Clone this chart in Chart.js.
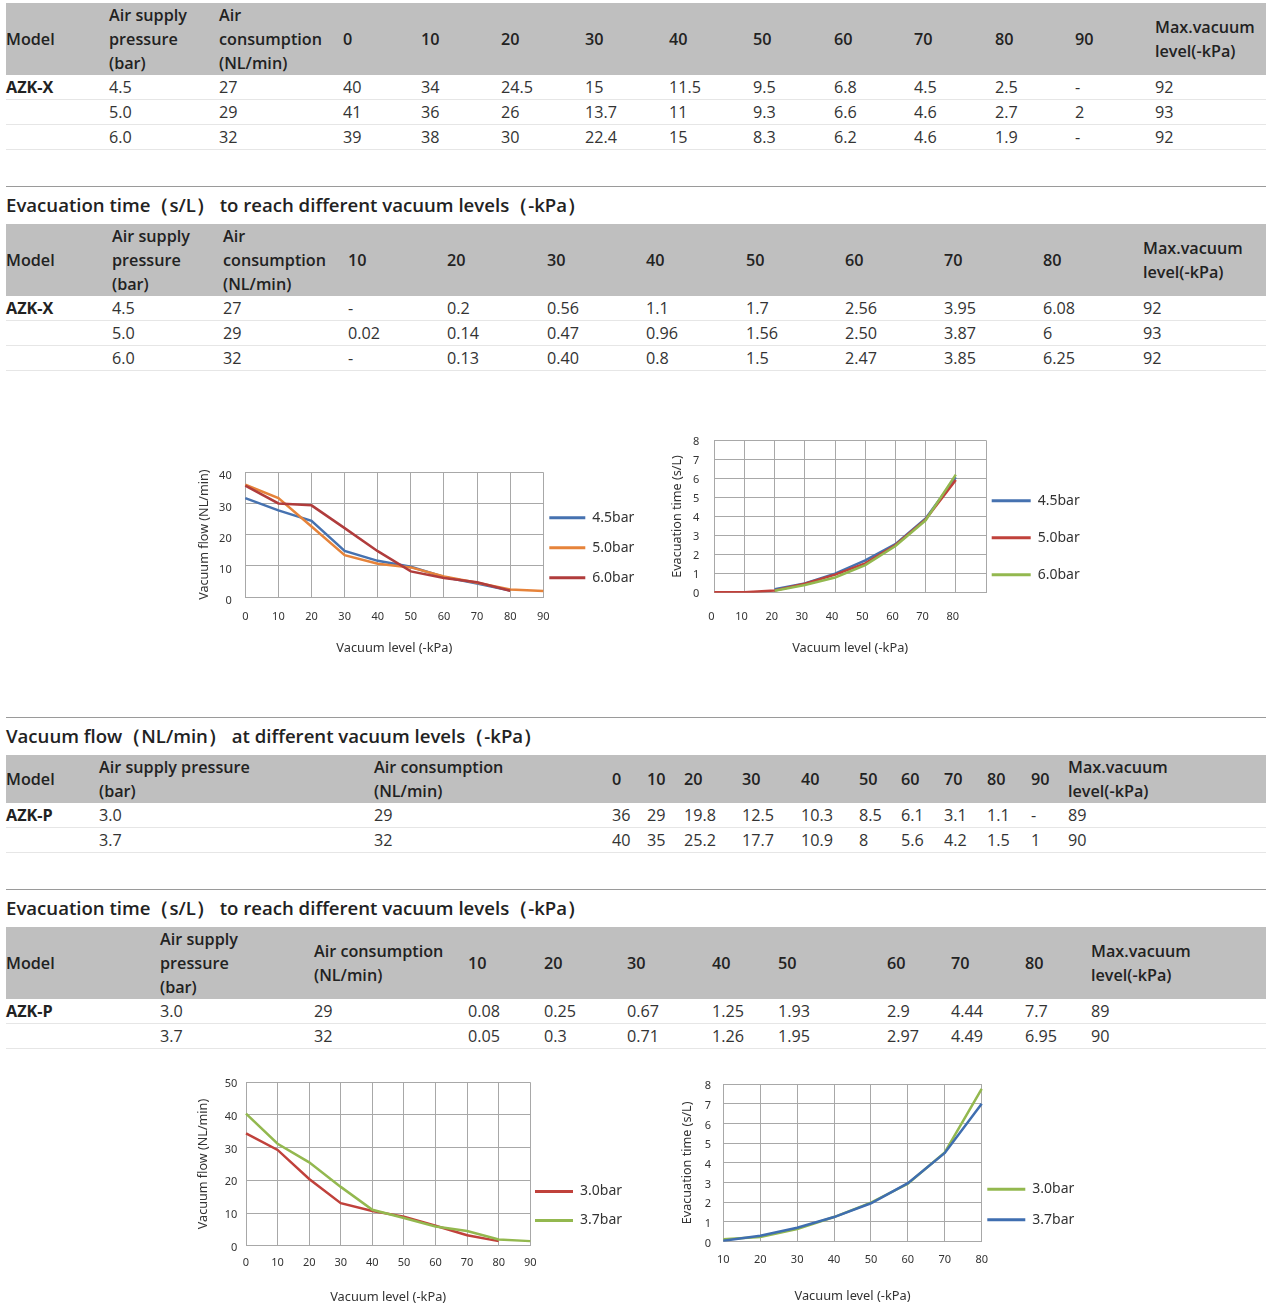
<!DOCTYPE html>
<html><head><meta charset="utf-8">
<script src="https://cdn.jsdelivr.net/npm/chart.js@4"></script>
<style>
html,body{margin:0;padding:0;background:#fff;}
body{width:1269px;height:1309px;position:relative;overflow:hidden;font-family:'Open Sans','Noto Sans',sans-serif;color:#333;}
.tbl{position:absolute;left:6px;width:1260px;border-collapse:collapse;table-layout:fixed;font-size:16.2px;}
.tbl th{background:#bfbfbf;font-weight:600;color:#222;text-align:left;vertical-align:middle;line-height:24px;padding:0;white-space:nowrap;}
.tbl td{line-height:24px;height:24px;padding:0;border-bottom:1px solid #e6e6e6;color:#333;white-space:nowrap;}
.tbl td.m{font-weight:700;color:#222;}
.rule{position:absolute;left:6px;width:1260px;height:0;border-top:1px solid #9a9a9a;}
.ttl{position:absolute;left:6px;font-size:18.6px;font-weight:600;color:#222;line-height:24px;white-space:nowrap;}
canvas{position:absolute;}
</style></head>
<body>
<script>
// ---------- table data ----------
const t1Levels = ['0','10','20','30','40','50','60','70','80','90'];
const t1Pressure = ['4.5','5.0','6.0'];
const t1Consumption = ['27','29','32'];
const t1Flow = [
  ['40','34','24.5','15','11.5','9.5','6.8','4.5','2.5','-'],
  ['41','36','26','13.7','11','9.3','6.6','4.6','2.7','2'],
  ['39','38','30','22.4','15','8.3','6.2','4.6','1.9','-']
];
const t1Max = ['92','93','92'];

const t2Levels = ['10','20','30','40','50','60','70','80'];
const t2Time = [
  ['-','0.2','0.56','1.1','1.7','2.56','3.95','6.08'],
  ['0.02','0.14','0.47','0.96','1.56','2.50','3.87','6'],
  ['-','0.13','0.40','0.8','1.5','2.47','3.85','6.25']
];
const t2Max = ['92','93','92'];

const t3Levels = ['0','10','20','30','40','50','60','70','80','90'];
const t3Pressure = ['3.0','3.7'];
const t3Consumption = ['29','32'];
const t3Flow = [
  ['36','29','19.8','12.5','10.3','8.5','6.1','3.1','1.1','-'],
  ['40','35','25.2','17.7','10.9','8','5.6','4.2','1.5','1']
];
const t3Max = ['89','90'];

const t4Levels = ['10','20','30','40','50','60','70','80'];
const t4Time = [
  ['0.08','0.25','0.67','1.25','1.93','2.9','4.44','7.7'],
  ['0.05','0.3','0.71','1.26','1.95','2.97','4.49','6.95']
];
const t4Max = ['89','90'];

// ---------- chart data ----------
const flowX = [0,10,20,30,40,50,60,70,80,90];
const flowX_45 = [31.7,27.8,24.4,14.8,11.6,9.7,6.4,4.3,2.1,null];
const flowX_50 = [36,31.7,22.6,13.4,10.7,9.5,6.6,4.6,2.4,1.9];
const flowX_60 = [35.7,30,29.4,22.1,14.7,8.2,6.1,4.7,2.0,null];

const evacX = [0,10,20,30,40,50,60,70,80,90];
const evacX_45 = [null,null,0.18,0.49,1.0,1.7,2.55,3.9,6.06];
const evacX_50 = [0.02,0.02,0.12,0.47,0.95,1.54,2.5,3.85,5.92];
const evacX_60 = [null,null,0.1,0.4,0.8,1.45,2.45,3.8,6.2];

const flowP = [0,10,20,30,40,50,60,70,80,90];
const flowP_30 = [34.4,29.3,20.4,13,10.6,8.9,6.1,3.2,1.4,null];
const flowP_37 = [40.4,31.2,25.5,18,11,8.5,5.9,4.5,1.9,1.4];

const evacP = [10,20,30,40,50,60,70,80];
const evacP_30 = [0.12,0.24,0.64,1.25,1.98,2.94,4.53,7.75];
const evacP_37 = [0.05,0.3,0.71,1.25,1.95,2.97,4.5,7.0];

// ---------- page builders ----------
function addTable(top, widths, headers, rows){
  const t = document.createElement('table'); t.className = 'tbl'; t.style.top = top + 'px';
  const cg = document.createElement('colgroup');
  widths.forEach(w => { const c = document.createElement('col'); c.style.width = w + 'px'; cg.appendChild(c); });
  t.appendChild(cg);
  const tb = document.createElement('tbody'); t.appendChild(tb);
  const hr = tb.insertRow();
  headers.forEach(h => { const th = document.createElement('th'); th.innerHTML = h.split('\n').join('<br>'); hr.appendChild(th); });
  rows.forEach(r => { const row = tb.insertRow(); r.forEach((v, ci) => { const td = row.insertCell(); td.textContent = v; if (ci === 0) td.className = 'm'; }); });
  document.body.appendChild(t);
}
function addRule(top){ const d = document.createElement('div'); d.className = 'rule'; d.style.top = top + 'px'; document.body.appendChild(d); }
function addTitle(top, text){ const d = document.createElement('div'); d.className = 'ttl'; d.style.top = top + 'px'; d.textContent = text; document.body.appendChild(d); }
function rowsOf(model, pressures, cons, vals, maxes){
  return pressures.map((p, i) => [i === 0 ? model : '', p, cons[i], ...vals[i], maxes[i]]);
}

const hMax = 'Max.vacuum\nlevel(-kPa)';
addTable(3, [103,110,124,78,80,84,84,84,81,80,81,80,80,111],
  ['Model','Air supply\npressure\n(bar)','Air\nconsumption\n(NL/min)', ...t1Levels, hMax],
  rowsOf('AZK-X', t1Pressure, t1Consumption, t1Flow, t1Max));
addRule(186);
addTitle(193, 'Evacuation time（s/L） to reach different vacuum levels（-kPa）');
addTable(224, [106,111,125,99,100,99,100,99,99,99,100,123],
  ['Model','Air supply\npressure\n(bar)','Air\nconsumption\n(NL/min)', ...t2Levels, hMax],
  rowsOf('AZK-X', t1Pressure, t1Consumption, t2Time, t2Max));
addRule(717);
addTitle(724, 'Vacuum flow（NL/min） at different vacuum levels（-kPa）');
addTable(755, [93,275,238,35,37,58,59,58,42,43,43,44,37,198],
  ['Model','Air supply pressure\n(bar)','Air consumption\n(NL/min)', ...t3Levels, hMax],
  rowsOf('AZK-P', t3Pressure, t3Consumption, t3Flow, t3Max));
addRule(889);
addTitle(896, 'Evacuation time（s/L） to reach different vacuum levels（-kPa）');
addTable(927, [154,154,154,76,83,85,66,109,64,74,66,175],
  ['Model','Air supply\npressure\n(bar)','Air consumption\n(NL/min)', ...t4Levels, hMax],
  rowsOf('AZK-P', t3Pressure, t3Consumption, t4Time, t4Max));

// ---------- charts ----------
Chart.defaults.font.family = "'Noto Sans', sans-serif";
Chart.defaults.font.size = 11;
Chart.defaults.color = '#333';

const legendNudge = {
  id: 'legendNudge',
  afterLayout(chart, args, opts){
    const lg = chart.legend; if (!lg) return;
    lg.left += opts.dx || 0;
    lg.right = chart.width;
    lg.width = lg.right - lg.left;
    lg.top += opts.dy || 0;
    lg.bottom += opts.dy || 0;
  }
};

const GRID = '#a8a8a8';
function lineChart(g, labels, series, yMax, yStep, hideLast){
  const c = document.createElement('canvas');
  c.width = g.box[2]; c.height = g.box[3];
  c.style.left = g.box[0] + 'px'; c.style.top = g.box[1] + 'px';
  c.style.width = g.box[2] + 'px'; c.style.height = g.box[3] + 'px';
  document.body.appendChild(c);
  new Chart(c, {
    type: 'line',
    data: {
      labels: labels,
      datasets: series.map((s, i) => ({
        label: s.label, data: s.data, borderColor: s.color, backgroundColor: s.color,
        borderWidth: 2.5, pointRadius: 0, pointHoverRadius: 0, tension: 0, fill: false,
        order: series.length - i
      }))
    },
    options: {
      responsive: false, animation: false, devicePixelRatio: 1,
      layout: { padding: { top: g.padTop, right: g.padRight, bottom: 0, left: 0 } },
      plugins: {
        tooltip: { enabled: false },
        legend: {
          position: 'right', maxWidth: 80,
          labels: {
            boxWidth: g.lgBox, boxHeight: 3, padding: g.lgPad, color: '#333',
            font: { size: 14 },
            sort: (a, b) => a.datasetIndex - b.datasetIndex,
            generateLabels: (ch) => Chart.defaults.plugins.legend.labels.generateLabels(ch).map(it => Object.assign(it, { lineWidth: 0 }))
          }
        },
        legendNudge: { dx: g.lgDx, dy: g.lgDy }
      },
      scales: {
        x: {
          type: 'category', offset: false,
          grid: { color: GRID, drawTicks: false, lineWidth: 1 },
          border: { color: GRID },
          ticks: { padding: g.xTickPad, labelOffset: g.xLabelOffset || 0, autoSkip: false, maxRotation: 0, color: '#333', font: { size: 11 },
            callback: function(v, i){ return (hideLast && i === labels.length - 1) ? '' : String(labels[i]); } },
          title: { display: true, text: 'Vacuum level (-kPa)', color: '#333', font: { size: 12.8 }, padding: { top: 0, bottom: g.xTitlePadB } },
          afterFit: (s) => { s.height = g.xH; }
        },
        y: {
          min: 0, max: yMax,
          grid: { color: GRID, drawTicks: false, lineWidth: 1 },
          border: { color: GRID },
          ticks: { stepSize: yStep, padding: g.yTickPad, labelOffset: g.yLabelOffset, color: '#333', font: { size: 11 } },
          title: { display: true, text: g.yTitle, color: '#333', font: { size: 12.6 }, padding: { top: g.yTitlePadT, bottom: 0 } },
          afterFit: (s) => { s.width = g.yW; }
        }
      }
    },
    plugins: [legendNudge]
  });
}

const C_BLUE = '#4672b0', C_ORANGE = '#e6833a', C_DRED = '#b03c3c';
const C_RED = '#c0413b', C_GREEN = '#93b84f', C_BLUE2 = '#3f6eb0';

lineChart({ box: [190,430,470,240], padTop: 42.3, padRight: 36.7, yW: 55.3, yTitlePadT: 6.4, yTickPad: 13.6, yLabelOffset: 4,
  xH: 73, xTickPad: 13.4, xTitlePadB: 14.4, lgBox: 36, lgPad: 16, lgDx: -10, lgDy: -23.5, yTitle: 'Vacuum flow (NL/min)' },
  flowX, [
    { label: '4.5bar', data: flowX_45, color: C_BLUE },
    { label: '5.0bar', data: flowX_50, color: C_ORANGE },
    { label: '6.0bar', data: flowX_60, color: C_DRED }
  ], 40, 10, false);

lineChart({ box: [660,415,440,255], padTop: 25.3, padRight: 34, yW: 54.3, yTitlePadT: 9.7, yTickPad: 15, yLabelOffset: 1.5,
  xH: 77.3, xTickPad: 18, xTitlePadB: 14.1, xLabelOffset: -3, lgBox: 39, lgPad: 23, lgDx: -17.3, lgDy: -17.5, yTitle: 'Evacuation time (s/L)' },
  evacX, [
    { label: '4.5bar', data: evacX_45, color: C_BLUE },
    { label: '5.0bar', data: evacX_50, color: C_RED },
    { label: '6.0bar', data: evacX_60, color: C_GREEN }
  ], 8, 1, true);

lineChart({ box: [190,1060,460,249], padTop: 22.3, padRight: 39.7, yW: 56, yTitlePadT: 5.7, yTickPad: 8.7, yLabelOffset: 2,
  xH: 63.3, xTickPad: 11, xTitlePadB: 3.7, lgBox: 38, lgPad: 15, lgDx: -10.3, lgDy: 10.3, yTitle: 'Vacuum flow (NL/min)' },
  flowP, [
    { label: '3.0bar', data: flowP_30, color: C_RED },
    { label: '3.7bar', data: flowP_37, color: C_GREEN }
  ], 50, 10, false);

lineChart({ box: [670,1060,430,249], padTop: 24, padRight: 38.3, yW: 53.3, yTitlePadT: 9.6, yTickPad: 12.3, yLabelOffset: 2,
  xH: 67.3, xTickPad: 11.7, xTitlePadB: 4.7, lgBox: 38, lgPad: 16.6, lgDx: -11, lgDy: 8, yTitle: 'Evacuation time (s/L)' },
  evacP, [
    { label: '3.0bar', data: evacP_30, color: C_GREEN },
    { label: '3.7bar', data: evacP_37, color: C_BLUE2 }
  ], 8, 1, false);
</script>
</body></html>
